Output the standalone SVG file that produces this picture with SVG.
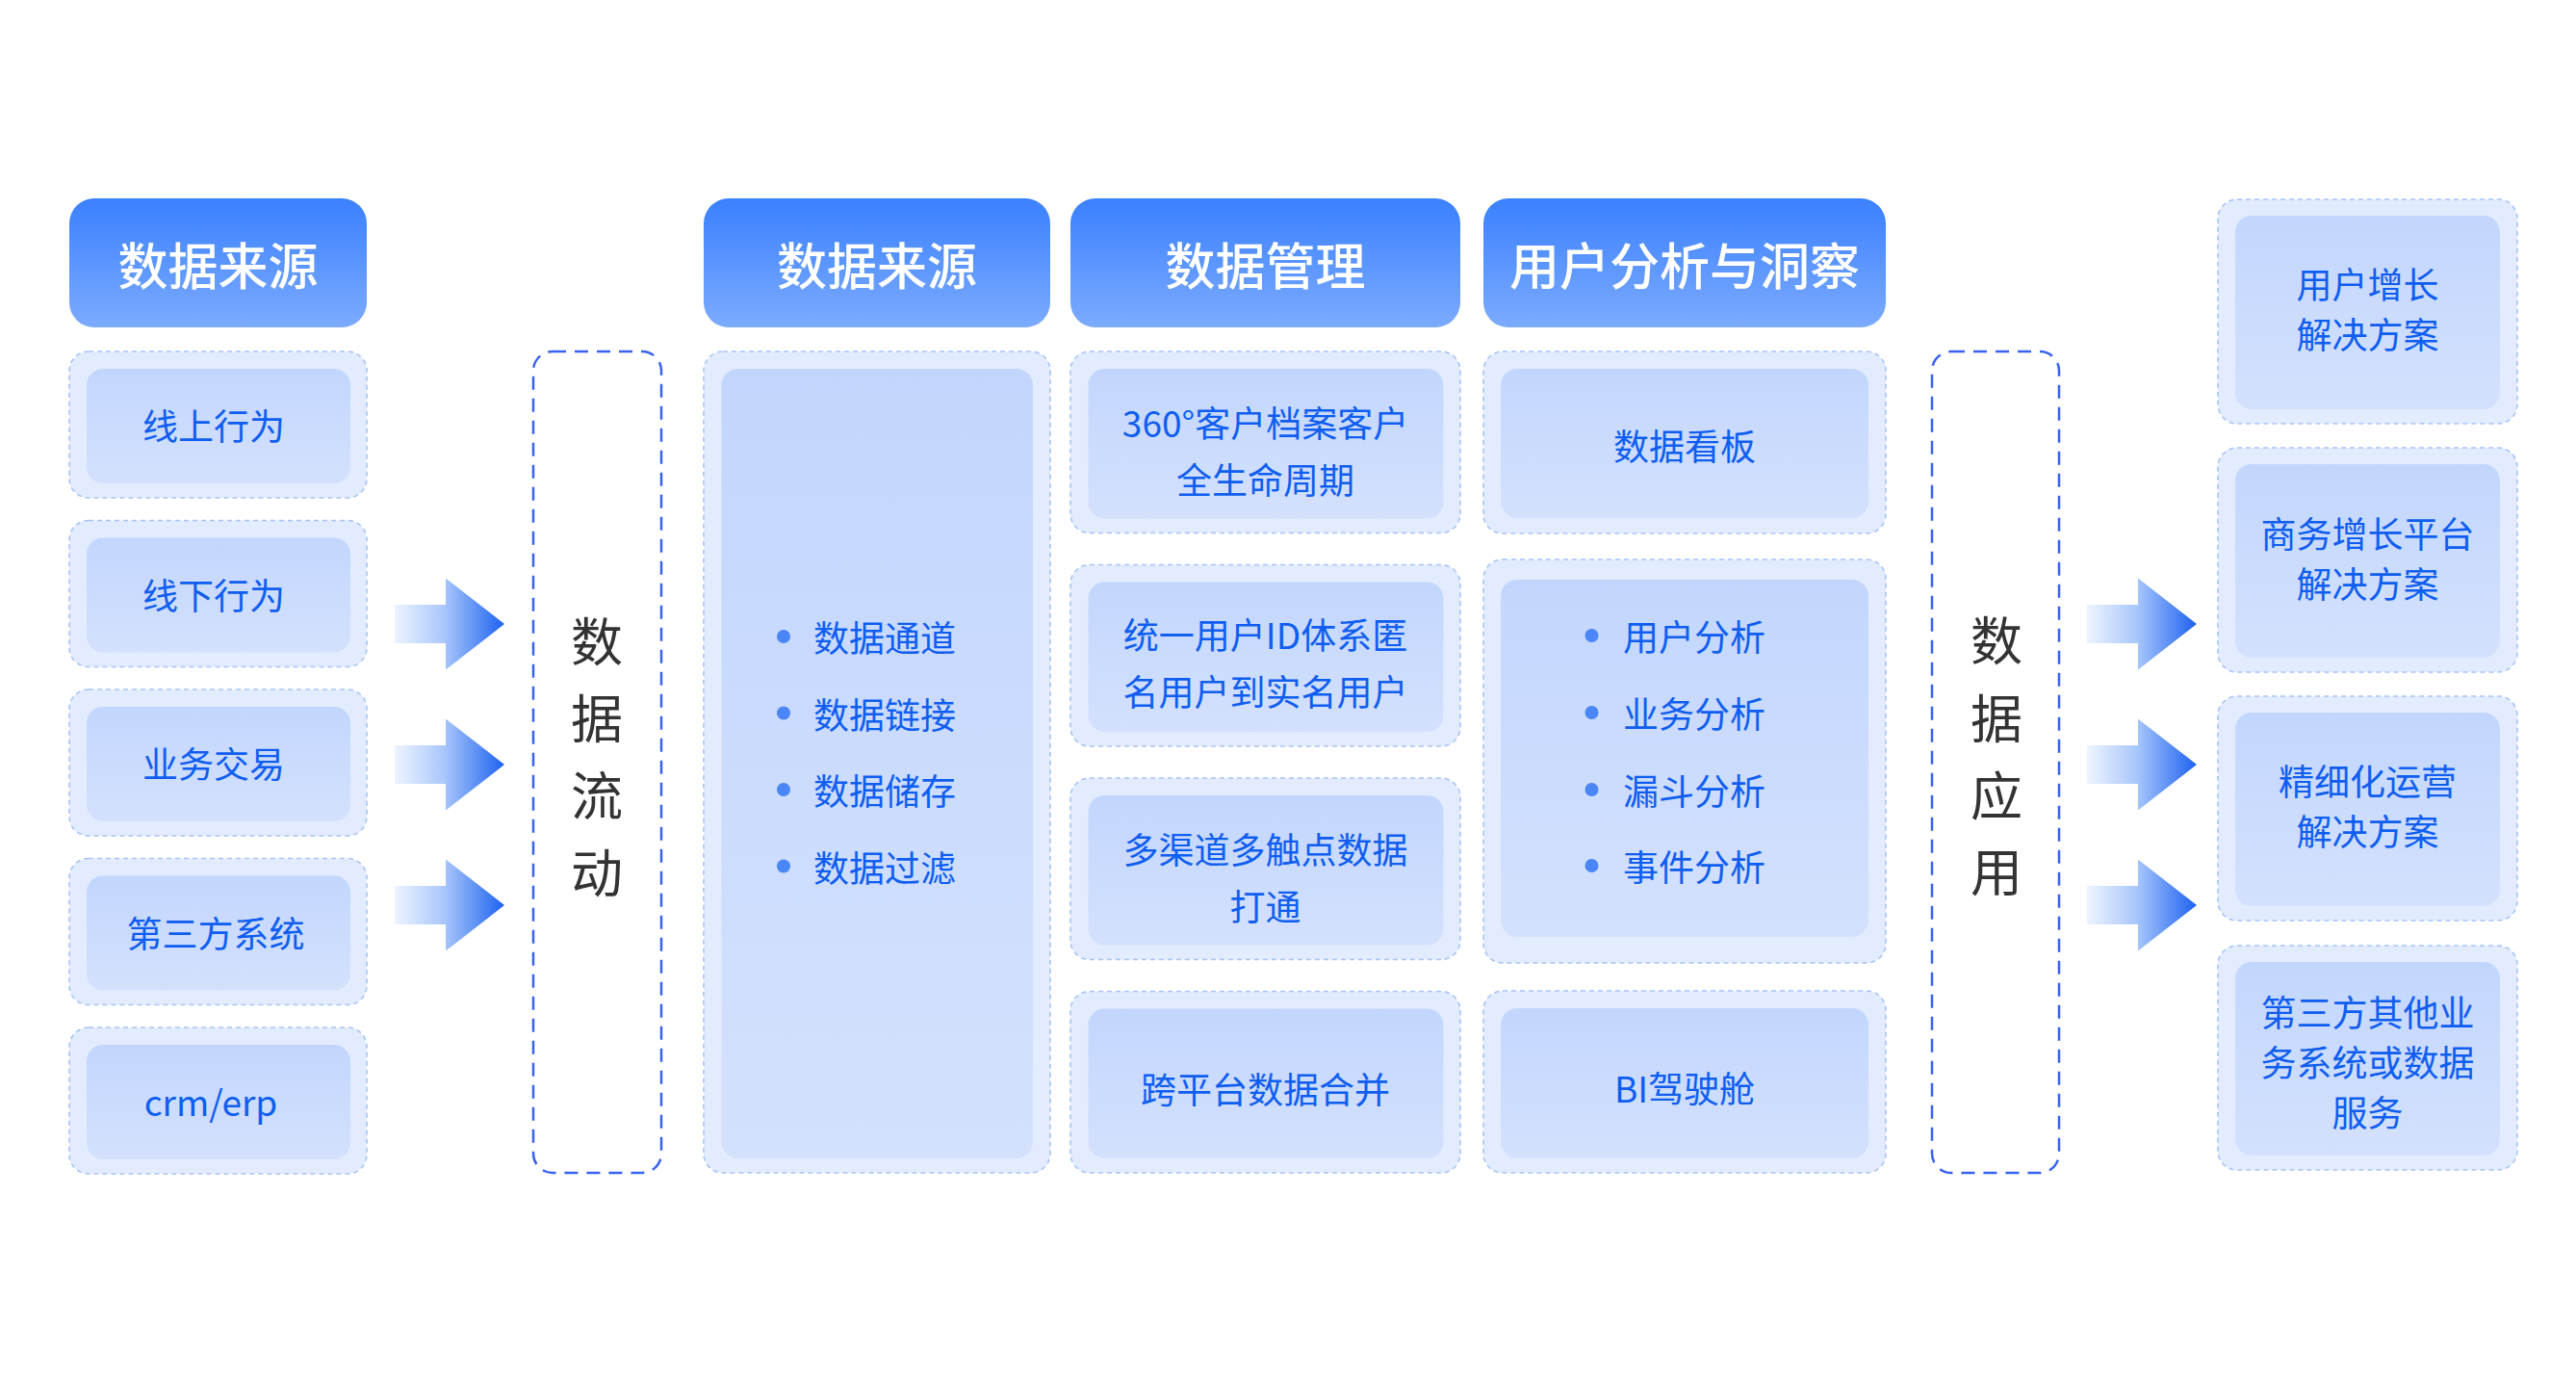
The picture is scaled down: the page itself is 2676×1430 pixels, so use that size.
<svg xmlns="http://www.w3.org/2000/svg" xmlns:xlink="http://www.w3.org/1999/xlink" width="2676" height="1430" viewBox="0 0 2676 1430">
<defs>
<linearGradient id="gHead" x1="0" y1="0" x2="0" y2="1">
<stop offset="0" stop-color="#3a80ff"/>
<stop offset="1" stop-color="#7cabff"/>
</linearGradient>
<linearGradient id="gInner" x1="0" y1="0" x2="0" y2="1">
<stop offset="0" stop-color="#c2d6fd"/>
<stop offset="1" stop-color="#d4e1fd"/>
</linearGradient>
<linearGradient id="gArrow" x1="0" y1="0" x2="1" y2="0">
<stop offset="0" stop-color="#eef4ff"/>
<stop offset="0.45" stop-color="#a9c7fb"/>
<stop offset="1" stop-color="#1e62f0"/>
</linearGradient>
<path id="arrow" d="M0,-20 H53 V-47.5 L114,0 L53,47.5 V20 H0 Z" fill="url(#gArrow)"/>
<style>
.head{fill:url(#gHead);}
.headText{fill:#ffffff;font-family:"Noto Sans CJK SC","Noto Sans",sans-serif;font-size:52px;font-weight:500;text-anchor:middle;dominant-baseline:central;}
.outer{fill:#e3ecff;stroke:#a8c4f6;stroke-width:1.6;stroke-dasharray:5 4;}
.inner{fill:url(#gInner);}
.t{fill:#0f5ef0;font-family:"Noto Sans CJK SC","Noto Sans",sans-serif;font-size:37px;text-anchor:middle;dominant-baseline:central;}
.tl{fill:#0f5ef0;font-family:"Noto Sans CJK SC","Noto Sans",sans-serif;font-size:37px;text-anchor:start;dominant-baseline:central;}
.dot{fill:#4a86f5;}
.flow{fill:none;stroke:#3a62f2;stroke-width:2.5;stroke-dasharray:14 9;}
.vt{fill:#333333;font-family:"Noto Sans CJK SC","Noto Sans",sans-serif;font-size:54px;text-anchor:middle;dominant-baseline:central;}
</style>
</defs>
<rect width="2676" height="1430" fill="#ffffff"/>

<!-- Column 1: data sources -->
<g id="h1">
<rect class="head" x="72" y="206" width="309" height="134" rx="26"/>
<text class="headText" x="226.5" y="273">数据来源</text>
</g>
<g id="src1">
<rect class="outer" x="72" y="365" width="309" height="152" rx="20"/>
<rect class="inner" x="90" y="383" width="274" height="119" rx="17"/>
<text class="t" x="222" y="441">线上行为</text>
</g>
<g id="src2">
<rect class="outer" x="72" y="540.5" width="309" height="152" rx="20"/>
<rect class="inner" x="90" y="558.5" width="274" height="119" rx="17"/>
<text class="t" x="222" y="616.5">线下行为</text>
</g>
<g id="src3">
<rect class="outer" x="72" y="716" width="309" height="152" rx="20"/>
<rect class="inner" x="90" y="734" width="274" height="119" rx="17"/>
<text class="t" x="222" y="792">业务交易</text>
</g>
<g id="src4">
<rect class="outer" x="72" y="891.5" width="309" height="152" rx="20"/>
<rect class="inner" x="90" y="909.5" width="274" height="119" rx="17"/>
<text class="t" x="224" y="967.5">第三方系统</text>
</g>
<g id="src5">
<rect class="outer" x="72" y="1067" width="309" height="152" rx="20"/>
<rect class="inner" x="90" y="1085" width="274" height="119" rx="17"/>
<text class="t" x="219" y="1143">crm/erp</text>
</g>

<!-- Data flow -->
<g id="flow1">
<rect class="flow" x="554" y="365" width="133" height="853" rx="20"/>
<text class="vt" x="620" y="663">数</text>
<text class="vt" x="620" y="743">据</text>
<text class="vt" x="620" y="823">流</text>
<text class="vt" x="620" y="903">动</text>
</g>

<!-- Column 2 -->
<g id="h2">
<rect class="head" x="731" y="206" width="360" height="134" rx="26"/>
<text class="headText" x="911" y="273">数据来源</text>
</g>
<g id="col2">
<rect class="outer" x="731" y="365" width="360" height="853" rx="20"/>
<rect class="inner" x="749.5" y="383" width="323.5" height="820" rx="17"/>
<circle class="dot" cx="814" cy="661" r="7"/>
<text class="tl" x="845" y="661">数据通道</text>
<circle class="dot" cx="814" cy="740.5" r="7"/>
<text class="tl" x="845" y="740.5">数据链接</text>
<circle class="dot" cx="814" cy="820" r="7"/>
<text class="tl" x="845" y="820">数据储存</text>
<circle class="dot" cx="814" cy="899.5" r="7"/>
<text class="tl" x="845" y="899.5">数据过滤</text>
</g>

<!-- Column 3 -->
<g id="h3">
<rect class="head" x="1112" y="206" width="405" height="134" rx="26"/>
<text class="headText" x="1314.5" y="273">数据管理</text>
</g>
<g id="m1">
<rect class="outer" x="1112" y="365" width="405" height="188.5" rx="20"/>
<rect class="inner" x="1130.5" y="383" width="369" height="155.5" rx="17"/>
<text class="t" x="1314.5" y="438">360°客户档案客户</text>
<text class="t" x="1314.5" y="497">全生命周期</text>
</g>
<g id="m2">
<rect class="outer" x="1112" y="586.5" width="405" height="188.5" rx="20"/>
<rect class="inner" x="1130.5" y="604.5" width="369" height="155.5" rx="17"/>
<text class="t" x="1314.5" y="658">统一用户ID体系匿</text>
<text class="t" x="1314.5" y="717">名用户到实名用户</text>
</g>
<g id="m3">
<rect class="outer" x="1112" y="808" width="405" height="188.5" rx="20"/>
<rect class="inner" x="1130.5" y="826" width="369" height="155.5" rx="17"/>
<text class="t" x="1314.5" y="881">多渠道多触点数据</text>
<text class="t" x="1314.5" y="940">打通</text>
</g>
<g id="m4">
<rect class="outer" x="1112" y="1029.5" width="405" height="188.5" rx="20"/>
<rect class="inner" x="1130.5" y="1047.5" width="369" height="155.5" rx="17"/>
<text class="t" x="1314.5" y="1130">跨平台数据合并</text>
</g>

<!-- Column 4 -->
<g id="h4">
<rect class="head" x="1541" y="206" width="418" height="134" rx="26"/>
<text class="headText" x="1750" y="273">用户分析与洞察</text>
</g>
<g id="u1">
<rect class="outer" x="1541" y="365" width="418" height="189" rx="20"/>
<rect class="inner" x="1559" y="383" width="382" height="155" rx="17"/>
<text class="t" x="1750" y="462">数据看板</text>
</g>
<g id="u2">
<rect class="outer" x="1541" y="581" width="418" height="419" rx="20"/>
<rect class="inner" x="1559" y="602" width="382" height="371" rx="17"/>
<circle class="dot" cx="1653.5" cy="660" r="7"/>
<text class="tl" x="1686" y="660">用户分析</text>
<circle class="dot" cx="1653.5" cy="740" r="7"/>
<text class="tl" x="1686" y="740">业务分析</text>
<circle class="dot" cx="1653.5" cy="820" r="7"/>
<text class="tl" x="1686" y="820">漏斗分析</text>
<circle class="dot" cx="1653.5" cy="899" r="7"/>
<text class="tl" x="1686" y="899">事件分析</text>
</g>
<g id="u3">
<rect class="outer" x="1541" y="1029" width="418" height="189" rx="20"/>
<rect class="inner" x="1559" y="1047" width="382" height="156" rx="17"/>
<text class="t" x="1750" y="1129">BI驾驶舱</text>
</g>

<!-- Data application -->
<g id="flow2">
<rect class="flow" x="2007" y="365" width="132" height="853" rx="20"/>
<text class="vt" x="2074" y="662">数</text>
<text class="vt" x="2074" y="743">据</text>
<text class="vt" x="2074" y="823">应</text>
<text class="vt" x="2074" y="902">用</text>
</g>

<!-- Right column: solutions -->
<g id="s1">
<rect class="outer" x="2304" y="207" width="311" height="233" rx="20"/>
<rect class="inner" x="2322" y="224" width="275" height="201" rx="17"/>
<text class="t" x="2459.5" y="294">用户增长</text>
<text class="t" x="2459.5" y="346">解决方案</text>
</g>
<g id="s2">
<rect class="outer" x="2304" y="465" width="311" height="233" rx="20"/>
<rect class="inner" x="2322" y="482" width="275" height="201" rx="17"/>
<text class="t" x="2459.5" y="553">商务增长平台</text>
<text class="t" x="2459.5" y="605">解决方案</text>
</g>
<g id="s3">
<rect class="outer" x="2304" y="723" width="311" height="233" rx="20"/>
<rect class="inner" x="2322" y="740" width="275" height="201" rx="17"/>
<text class="t" x="2459.5" y="810">精细化运营</text>
<text class="t" x="2459.5" y="862">解决方案</text>
</g>
<g id="s4">
<rect class="outer" x="2304" y="982" width="311" height="233" rx="20"/>
<rect class="inner" x="2322" y="999" width="275" height="201" rx="17"/>
<text class="t" x="2459.5" y="1050">第三方其他业</text>
<text class="t" x="2459.5" y="1102">务系统或数据</text>
<text class="t" x="2459.5" y="1154">服务</text>
</g>

<!-- Connectors -->
<g id="connectors">
<use xlink:href="#arrow" href="#arrow" transform="translate(410,648)"/>
<use xlink:href="#arrow" href="#arrow" transform="translate(410,794)"/>
<use xlink:href="#arrow" href="#arrow" transform="translate(410,940)"/>
<use xlink:href="#arrow" href="#arrow" transform="translate(2168,648)"/>
<use xlink:href="#arrow" href="#arrow" transform="translate(2168,794)"/>
<use xlink:href="#arrow" href="#arrow" transform="translate(2168,940)"/>
</g>
</svg>
